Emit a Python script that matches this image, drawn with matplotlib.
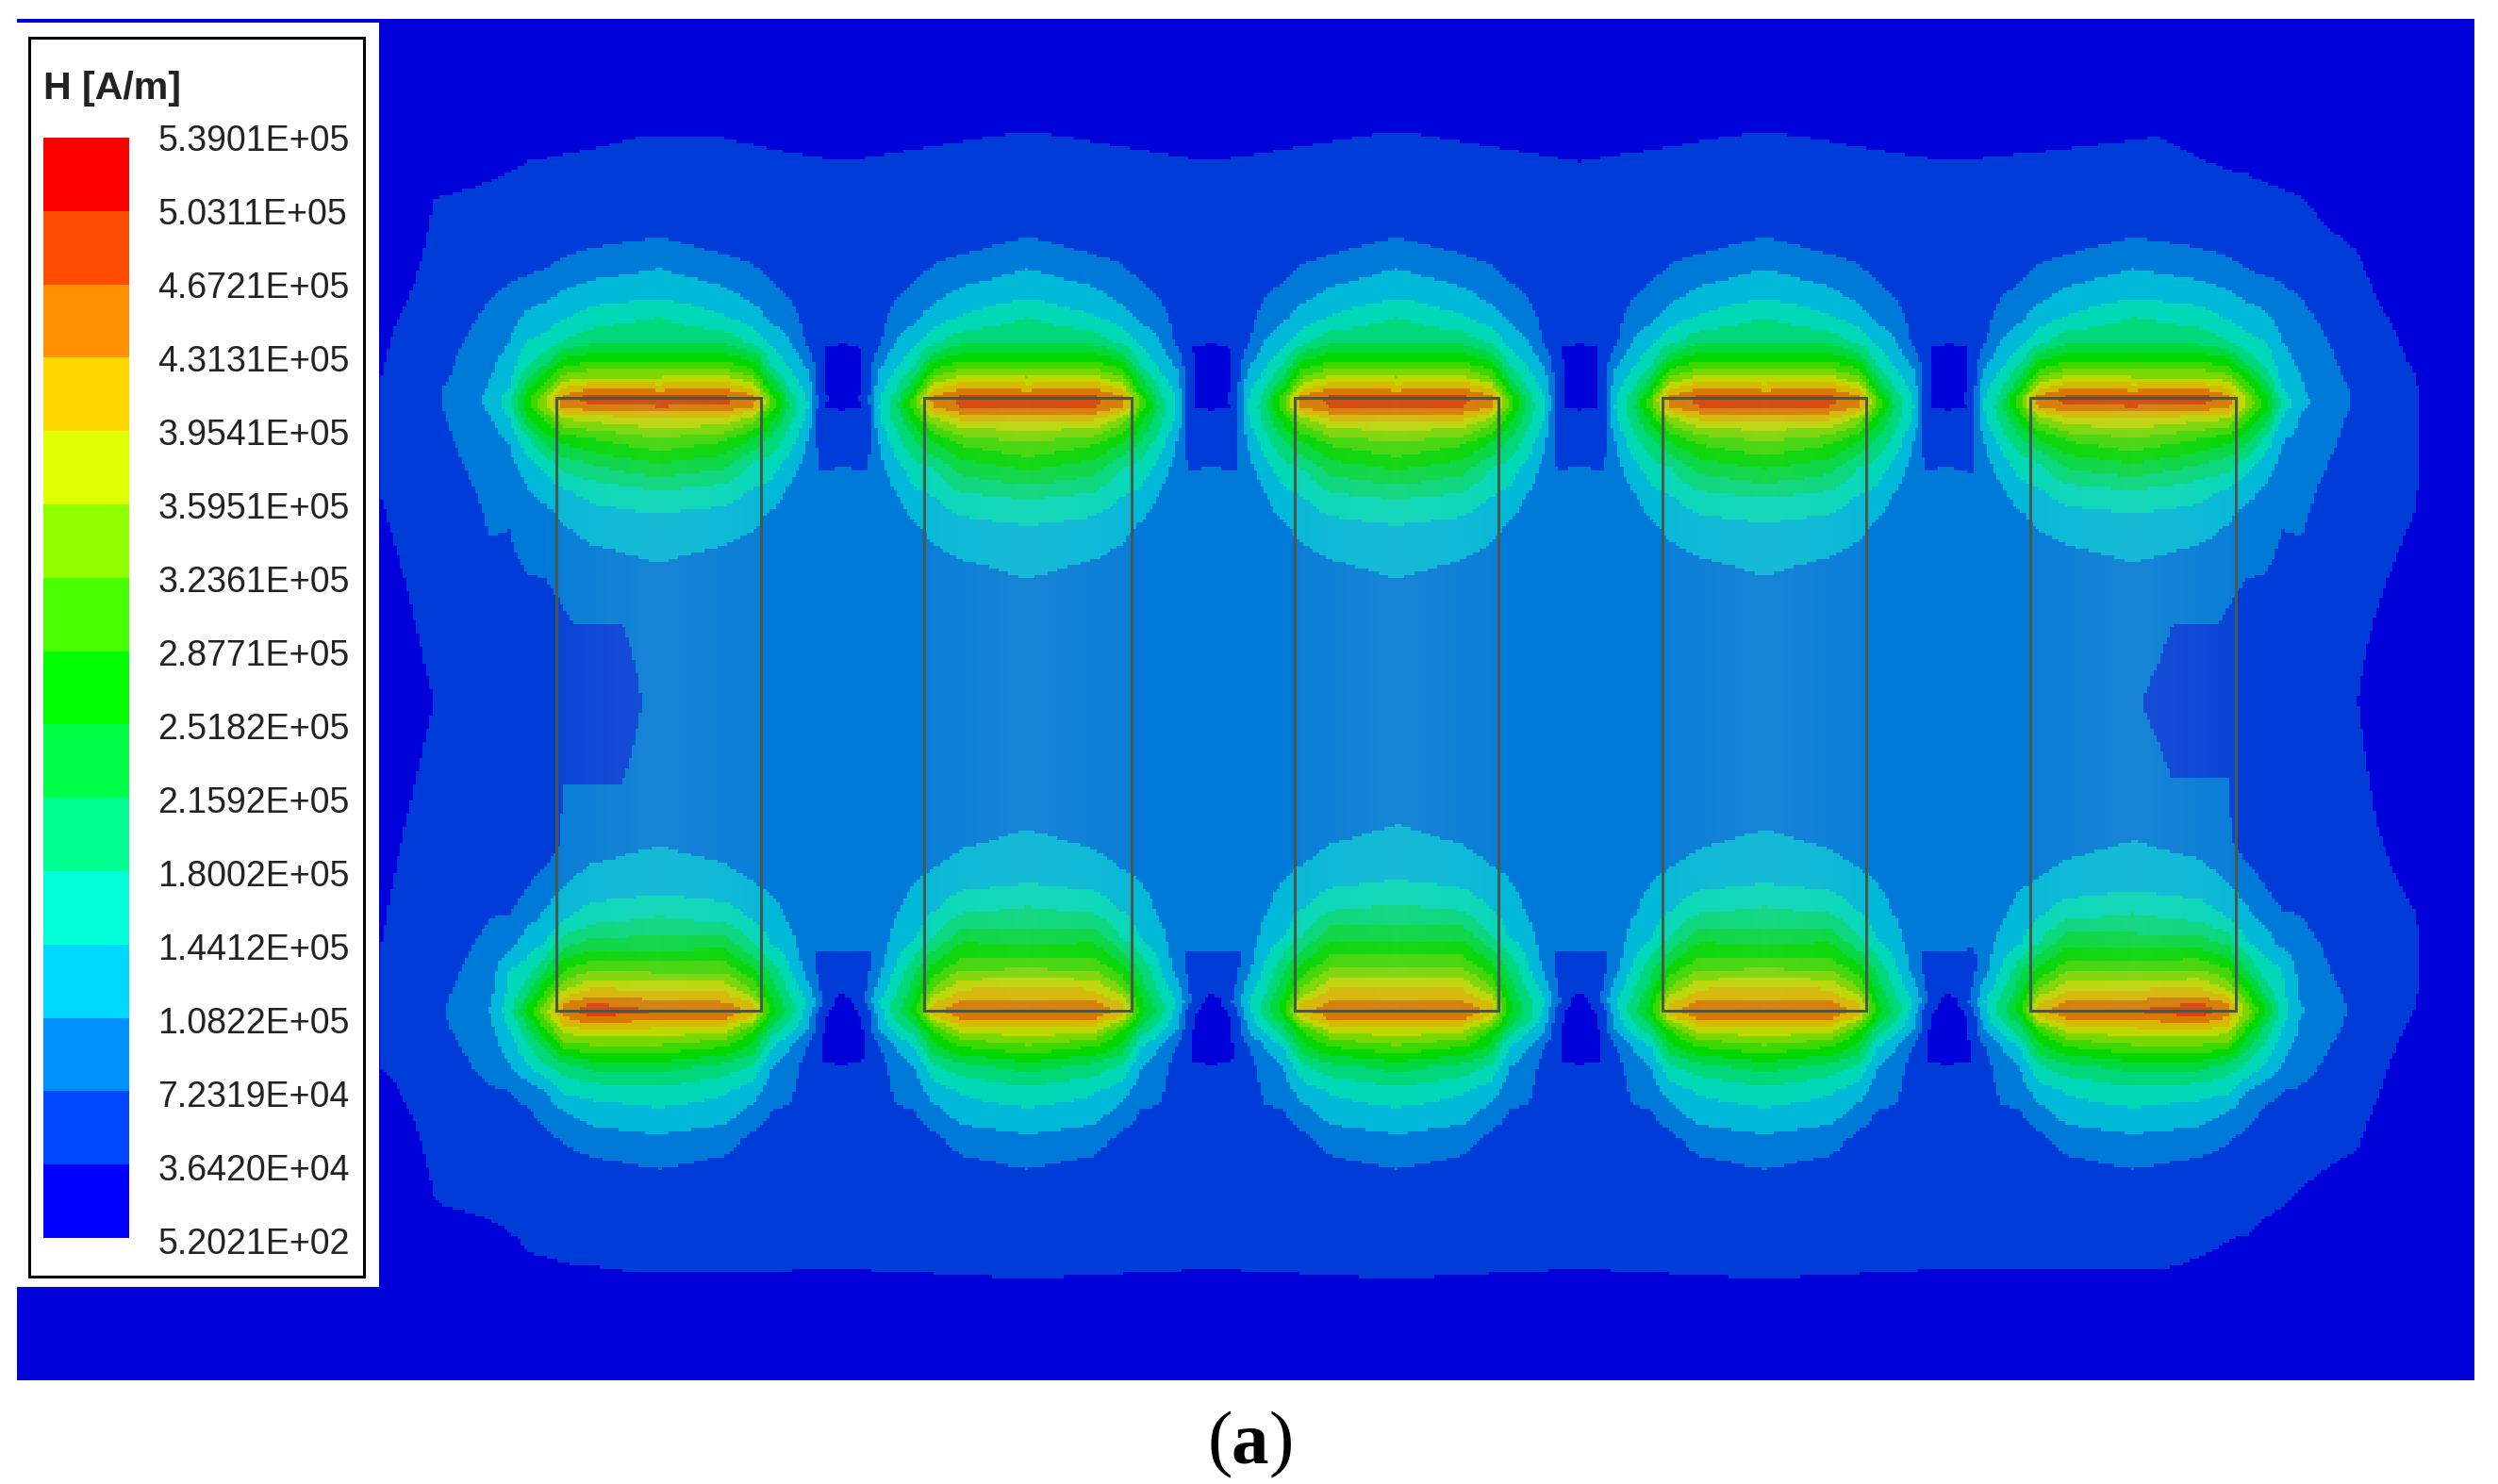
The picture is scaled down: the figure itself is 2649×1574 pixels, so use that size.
import numpy as np
import matplotlib
matplotlib.use("Agg")
import matplotlib.pyplot as plt
from matplotlib.colors import ListedColormap, BoundaryNorm
from matplotlib.patches import Rectangle

# ---------- legend ----------
LEVEL_LABELS = ["5.2021E+02", "3.6420E+04", "7.2319E+04", "1.0822E+05", "1.4412E+05", "1.8002E+05",
                "2.1592E+05", "2.5182E+05", "2.8771E+05", "3.2361E+05", "3.5951E+05", "3.9541E+05",
                "4.3131E+05", "4.6721E+05", "5.0311E+05", "5.3901E+05"]
LEGEND_COLORS = ["#0000ff", "#0048ff", "#0090ff", "#00d8ff", "#00ffd8", "#00ff90", "#00ff48", "#00ff00",
                 "#48ff00", "#90ff00", "#dfff00", "#ffd800", "#ff9000", "#ff4d00", "#ff0000"]
FIELD_COLORS = ["#0000d8", "#003dd8", "#007ad8", "#00b8d8", "#00d8b8", "#00d87a", "#00d83d", "#00d800",
                "#3dd800", "#7ad800", "#bed800", "#d8b800", "#d87a00", "#d84100", "#d80000"]

# ---------- coils (reference pixel coordinates) ----------
COIL_LEFT = [590, 980, 1373, 1763, 2153]
COIL_RIGHT = [807, 1200, 1589, 1979, 2371]
COIL_TOP = 422
COIL_BOTTOM = 1072
TOP_INWARD = [1, 1.1, 1.1, 1.08, 1]
BOT_INWARD = [1, 1.1, 1.13, 1.1, 1.03]
COIL_TINT_ALPHA = [.05, .08, .1, .115, .1, .08, .05]

# ---------- field readings, in units of contour level index ----------
# distance from the coil end, positive = outside the coil
ROW_D = [240, 170, 137, 105, 85, 60, 38, 22, 8, 0, -8, -22, -43, -70, -98, -123, -175, -240]
OUTER_R = [70, 100, 120, 140, 158, 178, 235]
GAP_R = [70, 100, 120, 140, 158, 172, 195]

TOP_CENTER = [1.2, 2, 3, 4, 5, 6, 8, 10, 12, 13.3, 13.2, 11, 9, 7, 5, 4, 3, 2.5]
TOP_OUTER = [
    [1.2, 1.7, 2.6, 3.7, 4.5, 5.7, 8, 10, 12.4, 13.5, 13, 10.4, 8, 6.1, 4.4, 3.7, 2.6, 2.2],
    [1.1, 1.5, 2.3, 3.3, 3.9, 5.1, 7.5, 9.4, 11.4, 12.5, 12.6, 10, 7.5, 5.5, 3.9, 3.2, 2.3, 1.9],
    [1, 1.4, 2, 2.9, 3.5, 4.3, 5.7, 7.6, 8.8, 9.8, 10, 8.3, 6.5, 4.5, 3.3, 2.8, 2.1, 1.7],
    [.9, 1.3, 1.8, 2.7, 3.2, 4, 4.7, 5.7, 6.8, 7.4, 7.6, 6.6, 4.8, 3.5, 2.9, 2.6, 2.1, 1.6],
    [.8, 1.2, 1.7, 2.3, 2.6, 3, 3.4, 3.7, 4.1, 4.6, 4.8, 3.9, 3.1, 2.7, 2.3, 2.1, 1.8, 1.4],
    [.7, 1, 1.5, 2, 2.2, 2.5, 2.8, 3, 3.1, 3.2, 3.2, 2.9, 2.7, 2.4, 2.2, 2.1, 1.9, 1.4],
    [.5, .7, 1, 1.3, 1.4, 1.5, 1.6, 1.7, 1.9, 1.9, 1.9, 1.8, 1.7, 1.6, 1.5, 1.4, 1.2, .9],
]
TOP_GAP = [
    [1.2, 1.5, 2.4, 3.4, 4.1, 5.7, 8, 10.2, 12.3, 13.2, 13.1, 10.9, 8.2, 6.3, 4.6, 3.7, 2.6, 2.3],
    [1, 1.4, 2.1, 2.8, 3.5, 4.7, 7.1, 9, 11.2, 12.5, 12.3, 9.5, 7, 4.9, 3.9, 3.3, 2.4, 2.1],
    [.9, 1.2, 1.7, 2.4, 2.8, 3.7, 4.7, 6, 7.3, 8.6, 8.7, 7.2, 5.8, 4.5, 3.6, 2.9, 2.2, 2],
    [.8, 1.1, 1.4, 2, 2.4, 3, 3.7, 4.3, 5, 5.4, 5.6, 5.3, 4.5, 3.5, 2.8, 2.5, 2.2, 2],
    [.7, .9, 1.2, 1.4, 1.6, 1.8, 2.7, 3.3, 3.7, 3.9, 4, 3.8, 3, 2.6, 2.3, 2.1, 1.9, 1.8],
    [.6, .8, 1, 1.05, 1.05, 1.05, 1.2, 1.2, 1.2, 1.3, 1.2, 1.2, 1.5, 1.9, 1.9, 1.9, 1.9, 1.8],
    [.3, .3, .3, .3, .3, .3, .3, .3, .3, .3, .3, .3, .3, .3, .3, .3, .3, .3],
]
BOT_CENTER = [1.3, 1.95, 2.8, 3.9, 4.7, 6.4, 8.8, 10.6, 12.1, 13, 12.3, 11, 8.7, 6.5, 5.1, 4, 3, 2.6]
BOT_OUTER = [
    [1.2, 1.6, 2.5, 3.6, 4.4, 6.3, 8.8, 10.7, 13, 13.7, 13, 11.2, 8.9, 6.5, 4.6, 3.7, 2.6, 2.3],
    [1.1, 1.4, 2.1, 3.1, 4.2, 5.5, 8.3, 10.3, 11.8, 12.5, 12, 10, 8, 5.7, 3.9, 3.2, 2.2, 2],
    [1, 1.3, 1.7, 2.4, 3, 4.8, 6.2, 7.7, 9.2, 9.7, 9, 7.9, 6, 4.1, 3.2, 2.7, 1.5, 1.3],
    [.9, 1.2, 1.5, 1.9, 2.4, 3.8, 4.8, 5.5, 6.4, 7.3, 6.6, 5.5, 4.4, 3.5, 2.7, 2.1, 1.2, 1.1],
    [.8, 1.1, 1.3, 1.7, 2, 2.9, 3.4, 3.9, 4.4, 4.6, 4.4, 4.2, 4, 2.7, 2.1, 1.6, 1, .9],
    [.7, 1, 1.2, 1.5, 1.9, 2.3, 2.6, 2.8, 2.9, 3.1, 2.9, 2.8, 2.6, 2.3, 2, 1.6, 1, .9],
    [.6, .8, 1, 1.2, 1.3, 1.4, 1.5, 1.7, 1.8, 1.8, 1.8, 1.7, 1.5, 1.4, 1.2, 1, .8, .7],
]
BOT_GAP = [
    [1.1, 1.6, 2.4, 3.6, 4.1, 5.6, 8, 10.1, 12.2, 12.9, 12.1, 10.9, 8.6, 6.7, 4.7, 3.7, 2.6, 2.3],
    [.9, 1.3, 1.7, 2.7, 3.5, 4.8, 6.7, 7.9, 10.6, 11.6, 11, 9, 7.2, 5, 3.9, 3.3, 2.2, 2],
    [.9, 1.2, 1.5, 2, 2.4, 3, 4, 5.5, 6.7, 7.4, 7.2, 6.5, 5.6, 3.9, 3.5, 3, 2.2, 2],
    [.8, 1, 1.2, 1.9, 2.2, 2.4, 3, 4.1, 5.2, 5.5, 5.3, 4.7, 4, 3.4, 2.8, 2.5, 2.1, 2],
    [.7, .8, 1, 1.2, 1.4, 1.6, 1.9, 2.9, 3.4, 3.6, 4, 3.4, 2.6, 2.3, 2.2, 2.1, 2, 2],
    [.6, .7, .8, .9, .9, 1.05, 1.05, 1.1, 1.2, 1.4, 2.2, 1.9, 1.6, 1.9, 2, 2, 2, 2],
    [.3, .3, .3, .3, .3, .3, .3, .3, .3, .3, .3, .3, .3, .3, .3, .3, .3, .3],
]

# background readings across the whole model
BG_X = [402, 460, 560, 681, 760, 892, 1090, 1284, 1481, 1675, 1871, 2066, 2289, 2400, 2500, 2560, 2630]
BG_Y = [20, 100, 145, 210, 350, 410, 435, 460, 490, 520, 620, 745, 870, 980, 1010, 1030, 1055, 1090,
        1130, 1160, 1280, 1340, 1400, 1465]
BG = [
    [0, 0, 0, 0, 0, 0, 0, 0, 0, 0, 0, 0, 0, 0, 0, 0, 0],
    [0, 0, .2, .5, .6, .4, .6, .4, .6, .4, .6, .4, .6, .4, .1, 0, 0],
    [0, .1, .8, 1, 1, .8, 1.05, .8, 1.05, .8, 1.05, .8, 1, .6, .1, 0, 0],
    [.2, 1, 1.3, 1.4, 1.4, 1.3, 1.5, 1.3, 1.5, 1.3, 1.5, 1.3, 1.4, 1.15, .8, .1, 0],
    [.9, 1.3, 1.5, 1.5, 1.5, 1.15, 1.5, 1.15, 1.5, 1.15, 1.5, 1.15, 1.5, 1.4, 1.3, .85, 0],
    [1, 1.4, 1.5, 1.6, 1.2, .5, 1.5, .5, 1.5, .5, 1.5, .5, 1.5, 1.4, 1.3, 1.05, 0],
    [1, 1.4, 1.5, 1.6, 1.3, 1, 1.5, 1, 1.5, 1, 1.5, 1, 1.5, 1.4, 1.3, 1.1, 0],
    [1, 1.4, 1.5, 1.6, 1.5, 1.4, 1.6, 1.4, 1.6, 1.4, 1.6, 1.4, 1.5, 1.4, 1.3, 1.1, 0],
    [1, 1.4, 1.5, 1.6, 1.8, 1.95, 1.8, 1.95, 1.8, 1.95, 1.8, 1.95, 1.6, 1.4, 1.3, 1.1, 0],
    [1, 1.4, 1.5, 1.7, 2, 2.2, 2, 2.2, 2, 2.2, 2, 2.2, 1.7, 1.4, 1.3, 1.05, 0],
    [.8, 1.2, 1.8, 2.1, 2.2, 2.5, 2.6, 2.6, 2.6, 2.6, 2.6, 2.5, 2.1, 1.8, 1.15, .85, 0],
    [.6, 1, 1.4, 2, 2.4, 2.6, 2.7, 2.7, 2.7, 2.7, 2.7, 2.6, 1.95, 1.5, 1, .5, 0],
    [.8, 1.2, 1.8, 2.1, 2.3, 2.5, 2.6, 2.6, 2.6, 2.6, 2.6, 2.5, 2.1, 1.8, 1.15, .7, 0],
    [.95, 1.4, 1.6, 1.7, 2, 2.3, 2.3, 2.3, 2.3, 2.3, 2.3, 2.3, 1.7, 1.4, 1.3, 1.05, 0],
    [1, 1.4, 1.6, 1.7, 1.9, 2, 1.9, 2, 1.9, 2, 1.9, 2, 1.7, 1.4, 1.3, 1.1, 0],
    [1.05, 1.4, 1.6, 1.7, 1.8, 1.7, 1.8, 1.7, 1.8, 1.7, 1.8, 1.7, 1.7, 1.4, 1.3, 1.1, 0],
    [1.05, 1.4, 1.5, 1.6, 1.5, 1, 1.6, 1, 1.6, 1, 1.6, 1, 1.6, 1.4, 1.3, 1.05, 0],
    [1.05, 1.4, 1.5, 1.6, 1.2, .5, 1.5, .5, 1.5, .5, 1.5, .5, 1.5, 1.4, 1.3, .95, 0],
    [1, 1.35, 1.4, 1.5, 1.3, 1, 1.5, 1, 1.5, 1, 1.5, 1, 1.5, 1.35, 1.25, .8, 0],
    [.8, 1.3, 1.35, 1.5, 1.4, 1.3, 1.5, 1.3, 1.5, 1.3, 1.5, 1.3, 1.5, 1.3, 1.2, .7, 0],
    [0, .97, 1.2, 1.3, 1.3, 1.15, 1.3, 1.15, 1.3, 1.15, 1.3, 1.15, 1.3, 1.05, .8, .1, 0],
    [0, .2, .95, 1.1, 1.1, 1.05, 1.15, 1.05, 1.15, 1.05, 1.15, 1.05, 1.05, .85, .2, 0, 0],
    [0, 0, .2, .5, .5, .5, .6, .5, .6, .5, .6, .5, .6, .4, 0, 0, 0],
    [0, 0, 0, 0, 0, 0, 0, 0, 0, 0, 0, 0, 0, 0, 0, 0, 0],
]

CAPTION = ["(", "a", ")"]
LEGEND_TITLE = "H [A/m]"


def grid_sample(xn, yn, table, gx, gy):
    """Bilinear sampling of a table with rows along yn and columns along xn; 0 outside."""
    xn, yn, table = np.asarray(xn, float), np.asarray(yn, float), np.asarray(table, float)
    by_col = np.array([np.interp(gy, yn, table[:, j], left=0, right=0) for j in range(len(xn))]).T
    return np.array([np.interp(gx, xn, row, left=0, right=0) for row in by_col])


def blob(center_list, left_r, left_cols, right_r, right_cols):
    r = np.r_[-np.array(left_r)[::-1], 0, right_r]
    cols = [c for c in left_cols[::-1]] + [center_list] + list(right_cols)
    return r, np.array(cols).T


# reference-pixel mesh of the solver image
cell = 3.47
gx = np.arange(18, 2625 + cell / 2, cell)
gy = np.arange(20, 1464 + cell / 2, cell)
cx, cy = (gx[:-1] + gx[1:]) / 2, (gy[:-1] + gy[1:]) / 2

field = grid_sample(BG_X, BG_Y, BG, cx, cy)
n_coils = len(COIL_LEFT)
for i in range(n_coils):
    c = (COIL_LEFT[i] + COIL_RIGHT[i]) / 2
    for center, outer, gap, edge, sign, inward in ((TOP_CENTER, TOP_OUTER, TOP_GAP, COIL_TOP, -1, TOP_INWARD[i]),
                                                   (BOT_CENTER, BOT_OUTER, BOT_GAP, COIL_BOTTOM, 1, BOT_INWARD[i])):
        lr, lc = (OUTER_R, outer) if i == 0 else (GAP_R, gap)
        rr, rc = (OUTER_R, outer) if i == n_coils - 1 else (GAP_R, gap)
        r, table = blob(center, lr, lc, rr, rc)
        ys = np.array([edge + sign * (d * inward if d < 0 else d) for d in ROW_D], float)
        order = np.argsort(ys)
        field = np.maximum(field, grid_sample(r + c, ys[order], table[order], cx, cy))

levels = np.array([float(s) for s in LEVEL_LABELS])
H = np.interp(field, np.arange(len(levels)), levels)

fig = plt.figure(figsize=(26.49, 15.74), dpi=100, facecolor="white")
ax = fig.add_axes([0, 0, 1, 1])
ax.axis("off")

ax.pcolormesh(gx, gy, H, cmap=ListedColormap(FIELD_COLORS), norm=BoundaryNorm(levels, len(FIELD_COLORS)),
              shading="flat", rasterized=True, zorder=1)

alpha_line = np.interp(np.linspace(0, 6, 64), np.arange(7), COIL_TINT_ALPHA)
tint = np.zeros((1, 64, 4))
tint[..., :3] = (0.8, 0.82, 0.8)
tint[..., 3] = alpha_line
for left, right in zip(COIL_LEFT, COIL_RIGHT):
    ax.imshow(tint, extent=(left, right, COIL_BOTTOM, COIL_TOP), aspect="auto", interpolation="bilinear", zorder=2)
    ax.add_patch(Rectangle((left, COIL_TOP), right - left, COIL_BOTTOM - COIL_TOP, facecolor="none",
                           edgecolor="#46594a", linewidth=2.2, zorder=3))

# legend panel
ax.add_patch(Rectangle((18, 24), 384, 1341, facecolor="white", edgecolor="none", zorder=4))
ax.add_patch(Rectangle((30.5, 39.5), 355, 1314, facecolor="white", edgecolor="black", linewidth=2.2, zorder=5))
ax.text(46, 94, LEGEND_TITLE, fontsize=29.6, fontweight="bold", family="Liberation Sans", color="#222222",
        ha="left", va="center", zorder=6)

# caption
ax.text(1281, 1551, CAPTION[0], fontsize=57, family="Liberation Serif", ha="left", va="baseline", color="black")
ax.text(1306, 1551, CAPTION[1], fontsize=57, fontweight="bold", family="Liberation Serif", ha="left", va="baseline", color="black")
ax.text(1345, 1551, CAPTION[2], fontsize=57, family="Liberation Serif", ha="left", va="baseline", color="black")

ax.set_xlim(0, 2649)
ax.set_ylim(1574, 0)

cax = fig.add_axes([46 / 2649, 1 - 1313 / 1574, 91 / 2649, 1167 / 1574])
cax.pcolormesh([0, 1], np.linspace(0, 15, 16), np.arange(15).reshape(-1, 1),
               cmap=ListedColormap(LEGEND_COLORS), vmin=-0.5, vmax=14.5)
cax.set_xticks([])
cax.set_yticks([])
cax.set_ylim(0, 15)
for s in cax.spines.values():
    s.set_visible(False)

lax = fig.add_axes([46 / 2649, 1 - 1316 / 1574, 91 / 2649, 1170 / 1574])
lax.patch.set_visible(False)
lax.set_xticks([])
lax.set_ylim(0, 15)
lax.yaxis.tick_right()
lax.set_yticks(np.arange(16), LEVEL_LABELS, fontsize=27, family="Liberation Sans", color="#222222")
lax.tick_params(axis="y", length=0, pad=22)
for s in lax.spines.values():
    s.set_visible(False)

fig.savefig("out.png", dpi=100)
